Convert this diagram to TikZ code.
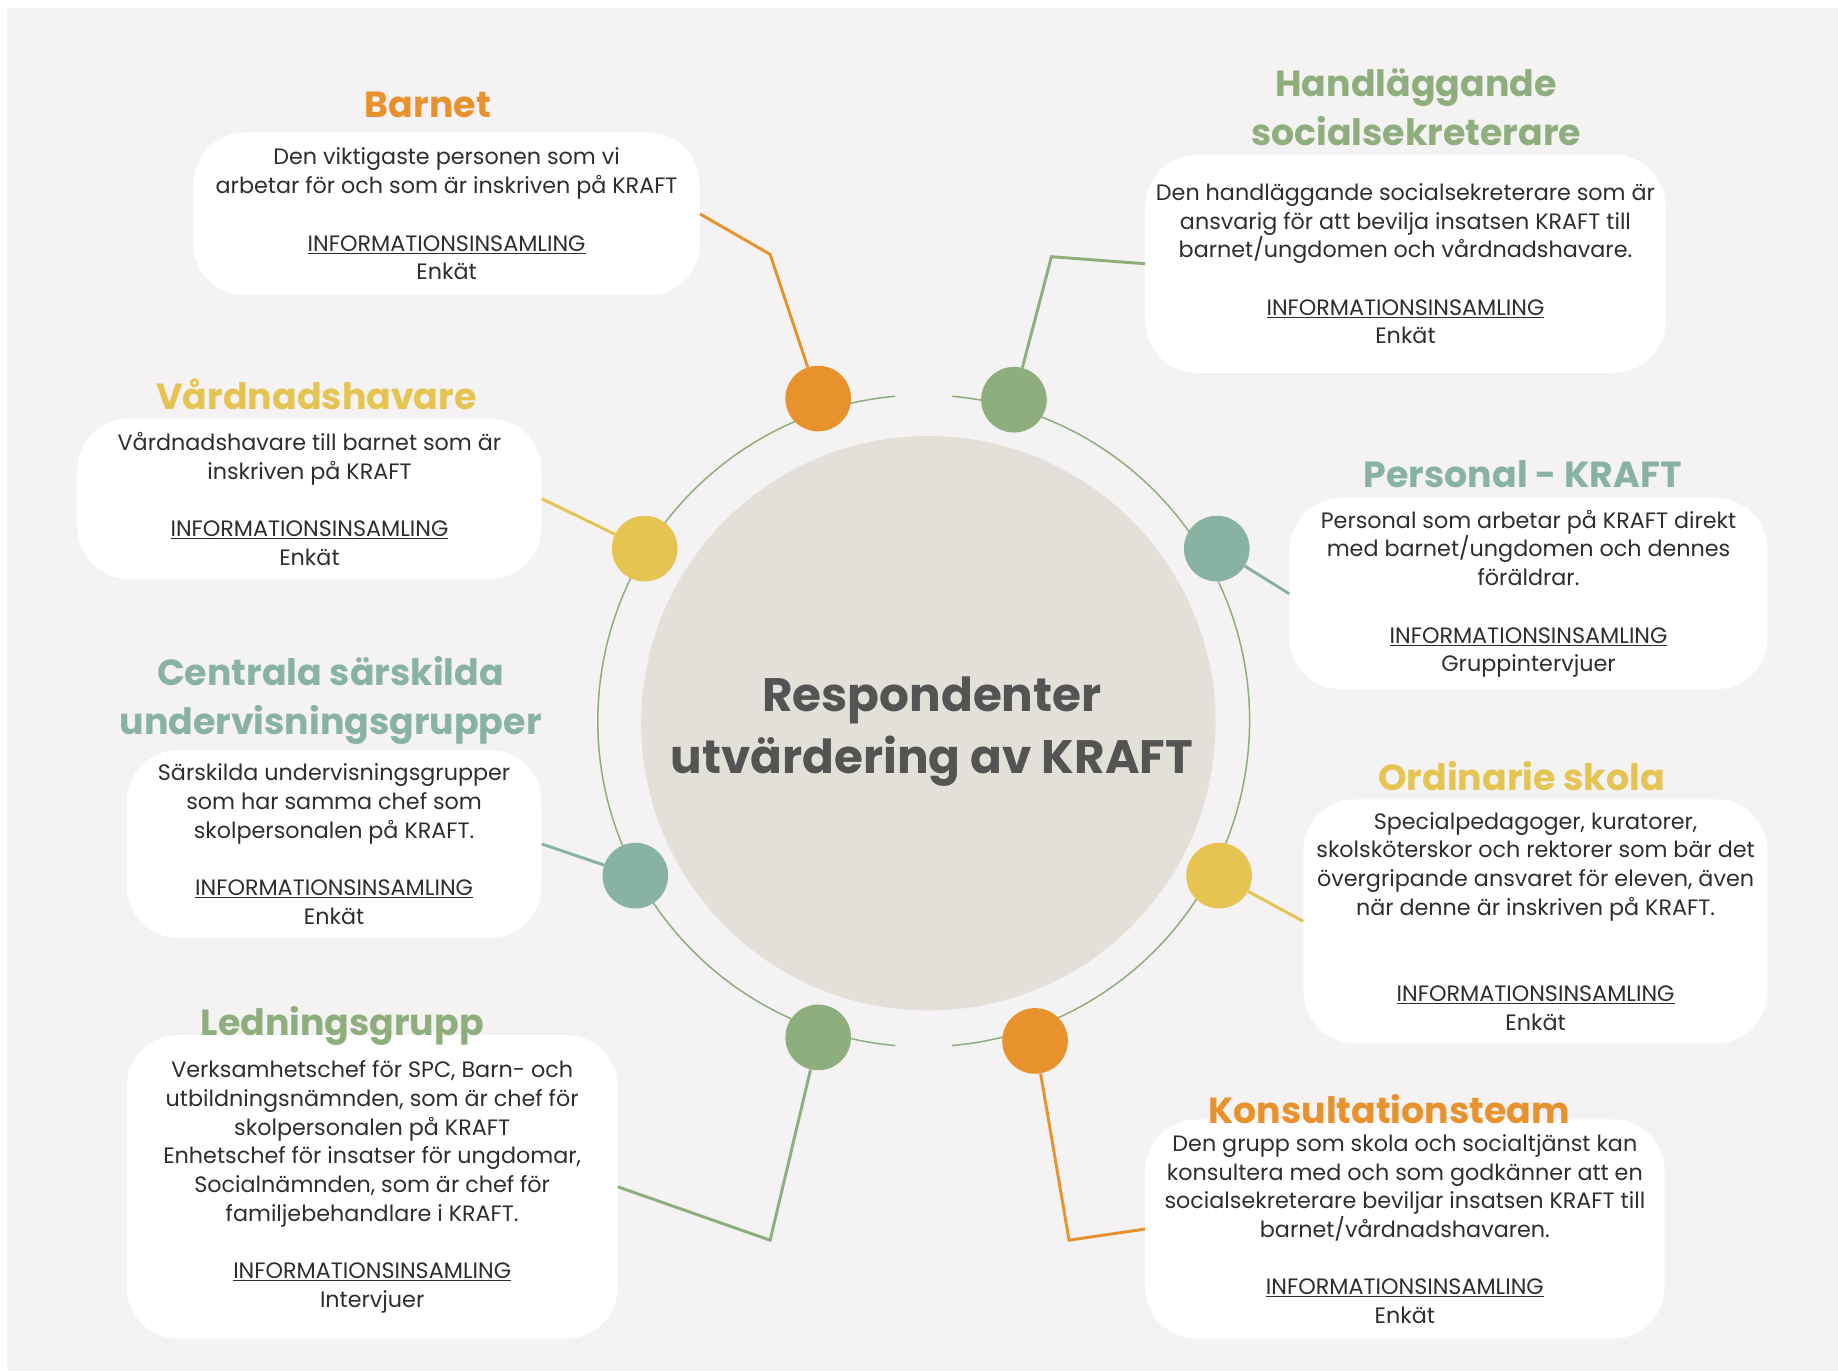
\documentclass[tikz,border=0pt]{standalone}
\usepackage{fontspec}
\setmainfont{Poppins}
\definecolor{kraftorange}{HTML}{E8922E}
\definecolor{kraftgreen}{HTML}{8FAE7E}
\definecolor{kraftyellow}{HTML}{E5C452}
\definecolor{kraftteal}{HTML}{88B3A3}
\definecolor{coregrey}{HTML}{E3E0DA}
\definecolor{pagegrey}{HTML}{F4F2F2}
\definecolor{bodytext}{HTML}{2E2E2E}
\definecolor{coretext}{HTML}{545454}
\newcommand{\insamling}[1]{\underline{INFORMATIONSINSAMLING}\\#1}
\begin{document}
\begin{tikzpicture}[x=1pt,y=-1pt]
    \tikzstyle{bead}=[circle, minimum size=56pt, inner sep=0pt]
    \tikzstyle{infobox}=[fill=white, rounded corners=44pt, align=center, inner sep=0pt, text=bodytext, font=\fontsize{19}{24.5}\selectfont]
    \tikzstyle{heading}=[align=center, anchor=base, font=\fontsize{31}{42}\selectfont\bfseries]
    \tikzstyle{link}=[line width=2.5pt]
    \tikzstyle{ring}=[draw=kraftgreen, line width=1.3pt]
    \useasboundingbox (0,0) rectangle (1568,1170);
    \fill[white] (0,0) rectangle (1568,1170);
    \fill[pagegrey] (6,7) rectangle (1568,1170);
    % ring round the core
    \draw[ring] (788,615) ++(-85:278) arc[start angle=-85, end angle=85, radius=278];
    \draw[ring] (788,615) ++(95:278) arc[start angle=95, end angle=265, radius=278];
    \node[circle, fill=coregrey, minimum size=490pt, inner sep=0pt] (core) at (792,617) {};
    \node[align=center, text=coretext, font=\fontsize{40}{53}\selectfont\bfseries] (coretxt) at (795,624) {Respondenter\\utvärdering av KRAFT};
    % beads
    \node[bead, fill=kraftorange] (p1) at (698,340) {};
    \node[bead, fill=kraftgreen]  (p2) at (865,341) {};
    \node[bead, fill=kraftyellow] (p3) at (550,468) {};
    \node[bead, fill=kraftteal]   (p4) at (1038,468) {};
    \node[bead, fill=kraftteal]   (p5) at (542,747) {};
    \node[bead, fill=kraftyellow] (p6) at (1040,747) {};
    \node[bead, fill=kraftgreen]  (p7) at (698,885) {};
    \node[bead, fill=kraftorange] (p8) at (883,888) {};
    % boxes
    \node[infobox, minimum width=432pt, minimum height=139pt] (barnet) at (381,182.5)
      {Den viktigaste personen som vi\\arbetar för och som är inskriven på KRAFT\\[\baselineskip]\insamling{Enkät}};
    \node[infobox, minimum width=444pt, minimum height=186pt] (handl) at (1199,225)
      {Den handläggande socialsekreterare som är\\ansvarig för att bevilja insatsen KRAFT till\\barnet/ungdomen och vårdnadshavare.\\[\baselineskip]\insamling{Enkät}};
    \node[infobox, minimum width=396pt, minimum height=137pt] (vard) at (264,425.5)
      {Vårdnadshavare till barnet som är\\inskriven på KRAFT\\[\baselineskip]\insamling{Enkät}};
    \node[infobox, minimum width=408pt, minimum height=163pt] (personal) at (1304,506.5)
      {Personal som arbetar på KRAFT direkt\\med barnet/ungdomen och dennes\\föräldrar.\\[\baselineskip]\insamling{Gruppintervjuer}};
    \node[infobox, minimum width=354pt, minimum height=160pt] (centrala) at (285,720)
      {Särskilda undervisningsgrupper\\som har samma chef som\\skolpersonalen på KRAFT.\\[\baselineskip]\insamling{Enkät}};
    \node[infobox, minimum width=396pt, minimum height=208pt] (ordin) at (1310,786)
      {Specialpedagoger, kuratorer,\\skolsköterskor och rektorer som bär det\\övergripande ansvaret för eleven, även\\när denne är inskriven på KRAFT.\\[2\baselineskip]\insamling{Enkät}};
    \node[infobox, minimum width=419pt, minimum height=259pt] (ledn) at (317.5,1012.5)
      {Verksamhetschef för SPC, Barn- och\\utbildningsnämnden, som är chef för\\skolpersonalen på KRAFT\\Enhetschef för insatser för ungdomar,\\Socialnämnden, som är chef för\\familjebehandlare i KRAFT.\\[\baselineskip]\insamling{Intervjuer}};
    \node[infobox, minimum width=443pt, minimum height=187pt] (konsult) at (1198.5,1048.5)
      {Den grupp som skola och socialtjänst kan\\konsultera med och som godkänner att en\\socialsekreterare beviljar insatsen KRAFT till\\barnet/vårdnadshavaren.\\[\baselineskip]\insamling{Enkät}};
    % headings
    \node[heading, text=kraftorange] (t1) at (365,100.5) {Barnet};
    \node[heading, text=kraftgreen]  (t2) at (1208,124.5) {Handläggande\\socialsekreterare};
    \node[heading, text=kraftyellow] (t3) at (270,349.5) {Vårdnadshavare};
    \node[heading, text=kraftteal]   (t4) at (1299,415.5) {Personal - KRAFT};
    \node[heading, text=kraftteal]   (t5) at (282,627) {Centrala särskilda\\undervisningsgrupper};
    \node[heading, text=kraftyellow] (t6) at (1298,674.5) {Ordinarie skola};
    \node[heading, text=kraftgreen]  (t7) at (292,883.5) {Ledningsgrupp};
    \node[heading, text=kraftorange] (t8) at (1185,958.5) {Konsultationsteam};
    % connectors
    \coordinate (k1) at (657,217);
    \coordinate (k2) at (897,219);
    \coordinate (k7) at (657,1058);
    \coordinate (k8) at (912,1058);
    \draw[link, kraftorange] (barnet.east) -- (k1) -- (p1);
    \draw[link, kraftgreen]  (p2) -- (k2) -- (handl.west);
    \draw[link, kraftyellow] (vard.east) -- (p3);
    \draw[link, kraftteal]   (p4) -- (personal.west);
    \draw[link, kraftteal]   (centrala.east) -- (p5);
    \draw[link, kraftyellow] (p6) -- (ordin.west);
    \draw[link, kraftgreen]  (p7) -- (k7) -- (ledn.east);
    \draw[link, kraftorange] (p8) -- (k8) -- (konsult.west);
\end{tikzpicture}
\end{document}
